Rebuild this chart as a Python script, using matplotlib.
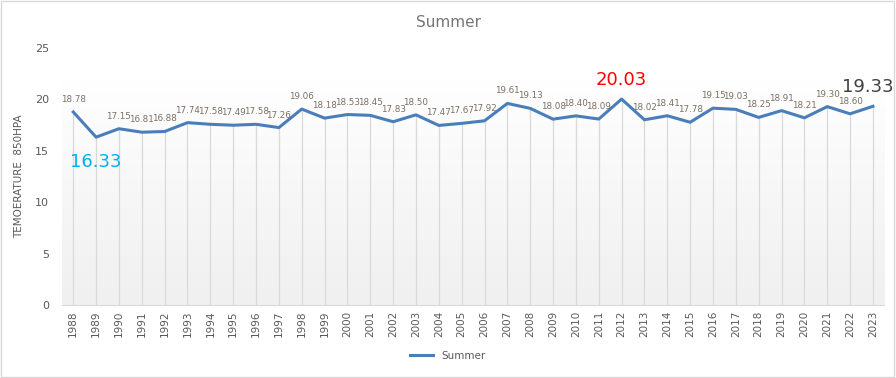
import numpy as np
import matplotlib
matplotlib.use('Agg')
import matplotlib.pyplot as plt
from matplotlib.colors import LinearSegmentedColormap

# -----------------------------------------------------------------------------------
# Summer temperature at 850 hPa
# -----------------------------------------------------------------------------------

years = [str(y) for y in range(1988, 2024)]
summer = [18.78, 16.33, 17.15, 16.81, 16.88, 17.74, 17.58, 17.49, 17.58, 17.26,
          19.06, 18.18, 18.53, 18.45, 17.83, 18.50, 17.47, 17.67, 17.92, 19.61,
          19.13, 18.08, 18.40, 18.09, 20.03, 18.02, 18.41, 17.78, 19.15, 19.03,
          18.25, 18.91, 18.21, 19.30, 18.60, 19.33]
y_ticks = [0, 5, 10, 15, 20, 25]
highlight = {'1989': '#00b0f0', '2012': '#ff0000', '2023': '#404040'}

line_color = '#4a7ebb'
text_gray = '#595959'

fig = plt.figure(figsize=(8.96, 3.78), dpi=100)
ax = fig.add_axes([0.069, 0.193, 0.918, 0.680])

x = np.arange(len(years))

# background gradient in the plot area
grad = np.linspace(0, 1, 256).reshape(-1, 1)
cmap = LinearSegmentedColormap.from_list('bg', ['#ffffff', '#f7f7f7', '#f0f0f0'])
ax.imshow(grad, cmap=cmap, aspect='auto', extent=(-0.5, len(years) - 0.5, 0, 21.9),
          origin='upper', zorder=0)

# drop lines
ax.vlines(x, 0, summer, color='#d9d9d9', linewidth=0.9, zorder=1)
ax.plot(x, summer, color=line_color, linewidth=2.2, label='Summer', zorder=3)

for i, (yr, v) in enumerate(zip(years, summer)):
    if yr == '1989':
        ax.annotate('%.2f' % v, (i, v), xytext=(0, -18), textcoords='offset points',
                    ha='center', va='center', fontsize=13, color=highlight[yr])
    elif yr in highlight:
        dx = -4 if yr == '2023' else 0
        ax.annotate('%.2f' % v, (i, v), xytext=(dx, 14), textcoords='offset points',
                    ha='center', va='center', fontsize=13, color=highlight[yr])
    else:
        ax.annotate('%.2f' % v, (i, v), xytext=(0, 9), textcoords='offset points',
                    ha='center', va='center', fontsize=6.3, color='#7b6f63')

ax.set_xlim(-0.5, len(years) - 0.5)
ax.set_ylim(0, 25)
ax.set_xticks(x)
ax.set_xticklabels(years, rotation=90, fontsize=7.5, color=text_gray)
ax.set_yticks(y_ticks)
ax.set_yticklabels([str(t) for t in y_ticks], fontsize=8, color=text_gray)
ax.tick_params(axis='both', length=0, pad=9)
ax.tick_params(axis='x', pad=4)
for s in ['top', 'right', 'left']:
    ax.spines[s].set_visible(False)
ax.spines['bottom'].set_color('#d9d9d9')
ax.set_ylabel('TEMOERATURE  850HPA', fontsize=7.5, color=text_gray, labelpad=8)

fig.text(0.5, 0.94, 'Summer', ha='center', va='center', fontsize=11, color='#757575')
fig.legend(loc='lower center', bbox_to_anchor=(0.5, 0.02), frameon=False,
           fontsize=7.5, labelcolor=text_gray, handlelength=2.2)

# outer border
fig.patches.append(plt.Rectangle((0.001, 0.002), 0.997, 0.995, transform=fig.transFigure,
                                 fill=False, edgecolor='#d9d9d9', linewidth=1))

fig.savefig('out.png', dpi=100)
